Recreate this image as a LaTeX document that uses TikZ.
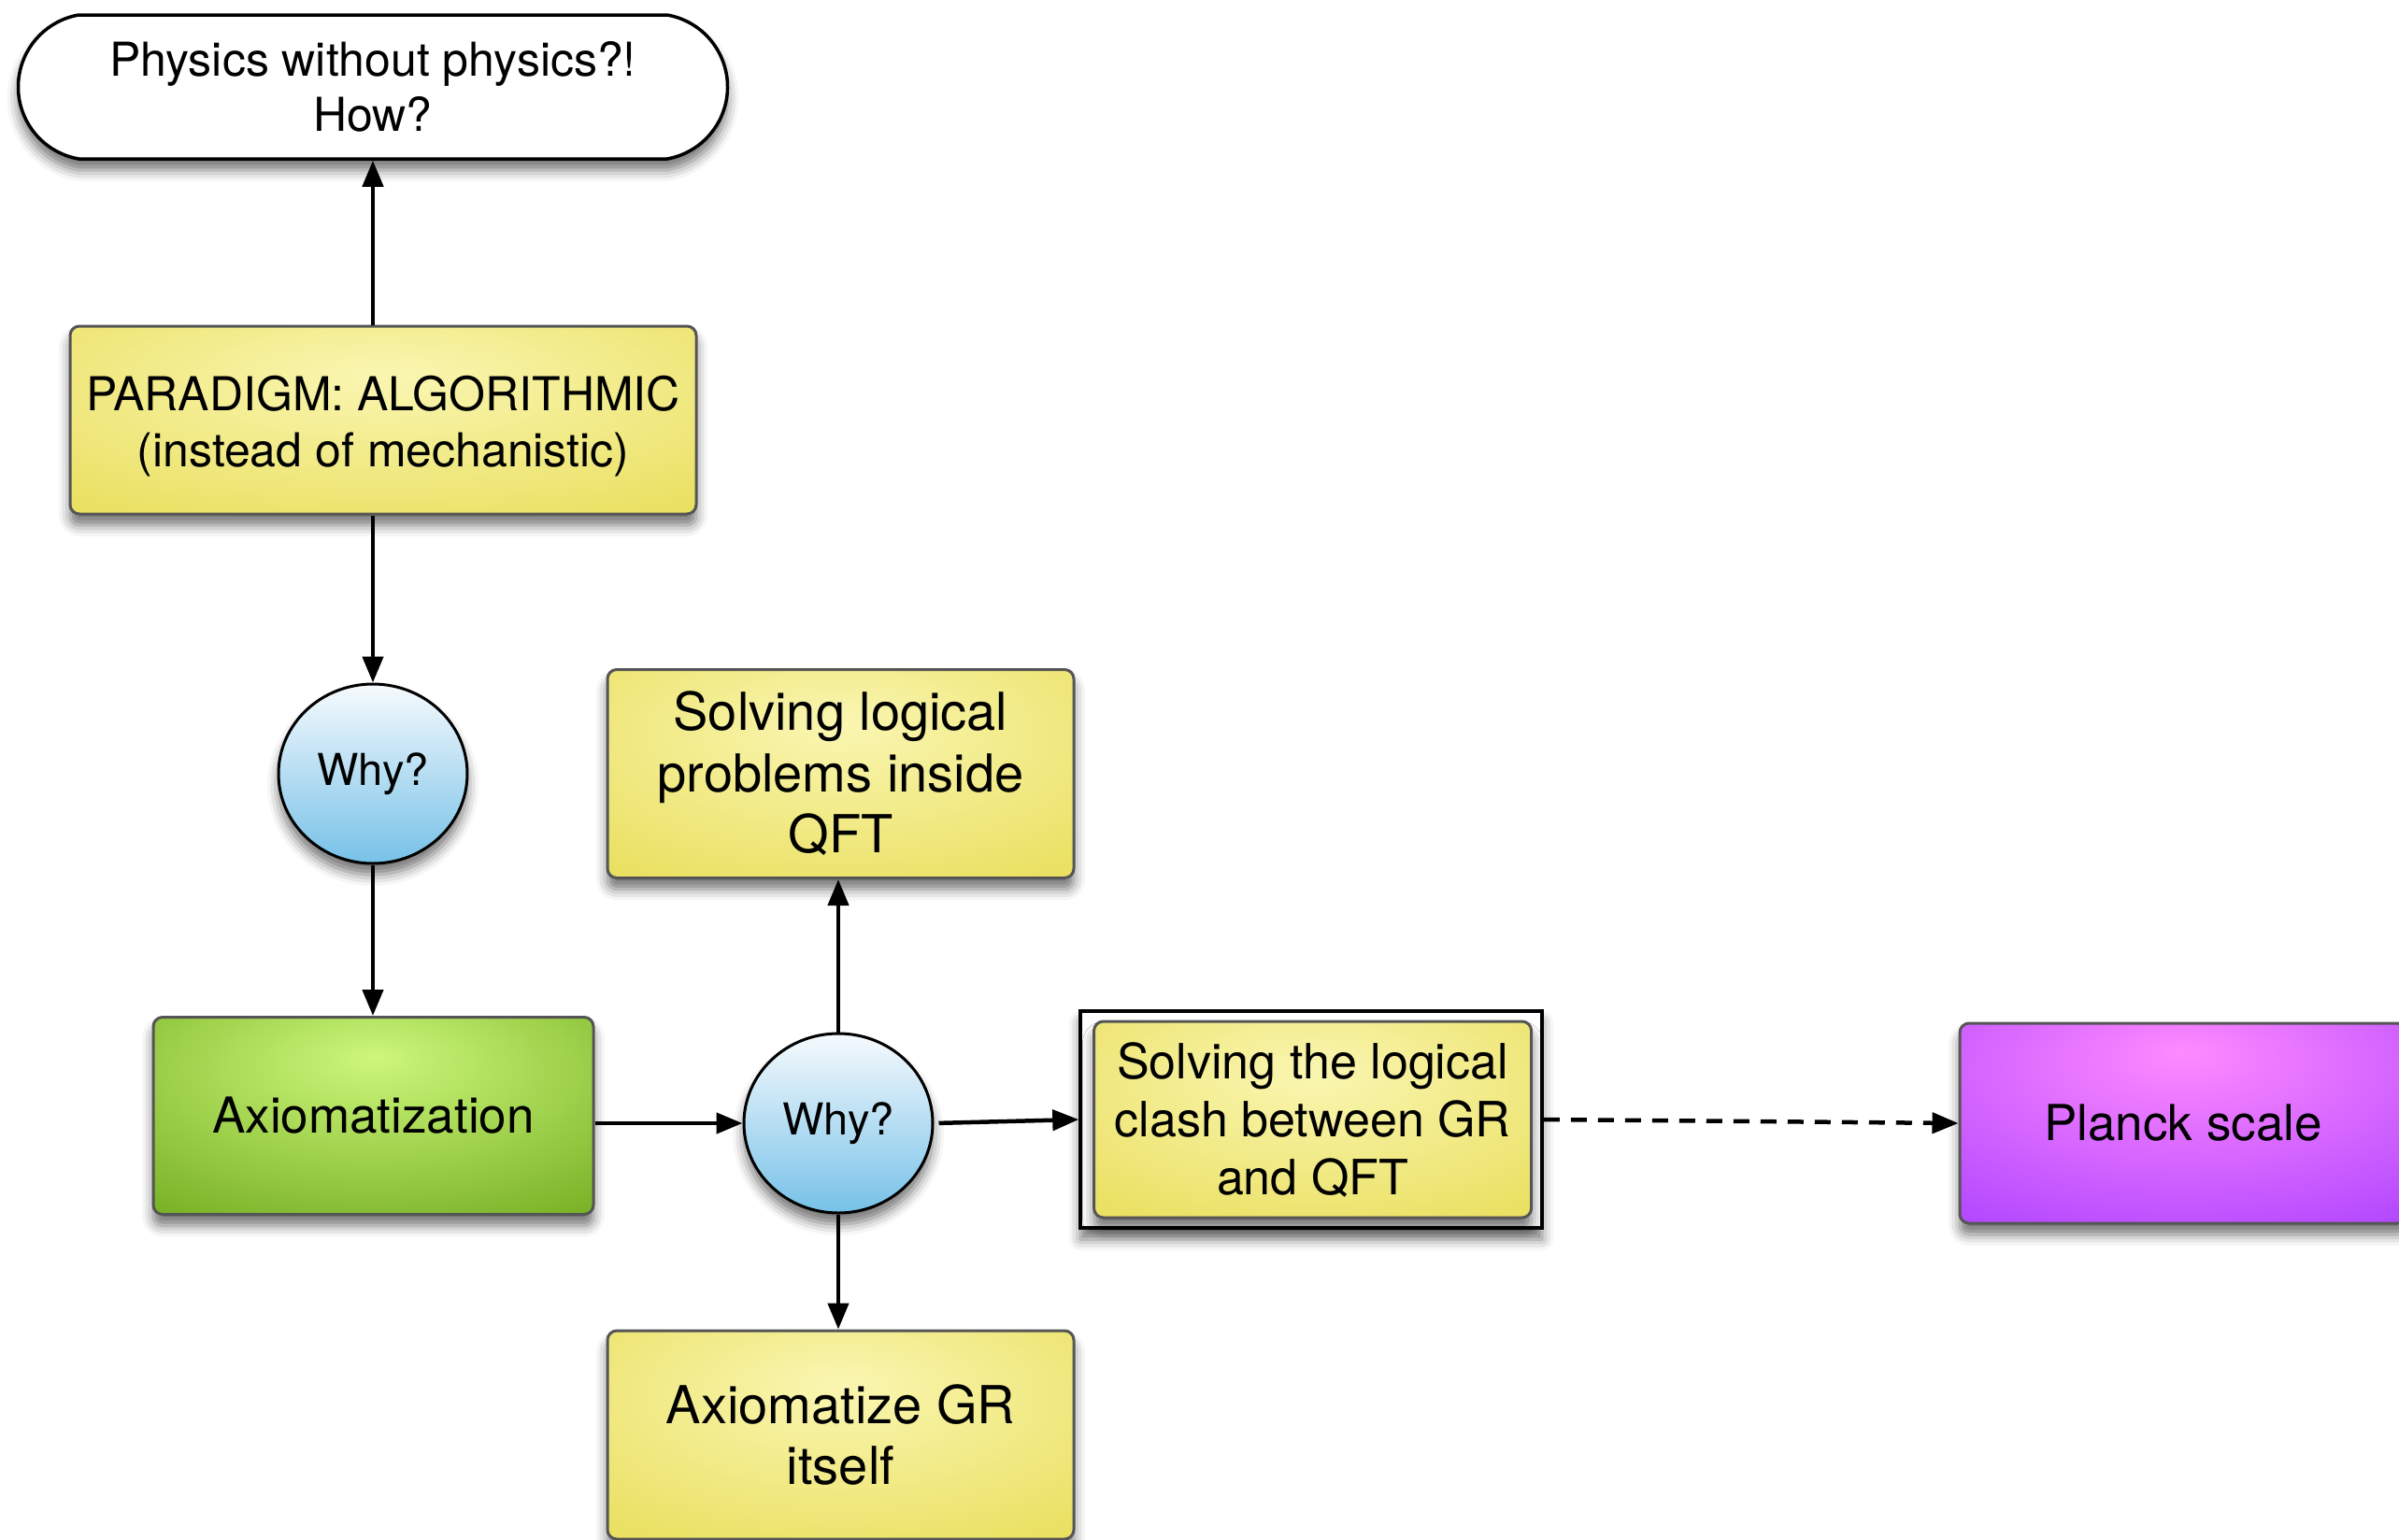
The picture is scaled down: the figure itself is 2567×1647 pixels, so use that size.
\documentclass[tikz,border=0pt]{standalone}
\usepackage{fontspec}
\setmainfont{TeX Gyre Heros}
\usetikzlibrary{arrows.meta,shapes.misc,shapes.geometric,shadows.blur}

\definecolor{yelC}{HTML}{FAF6B2}
\definecolor{yelE}{HTML}{E0D332}
\definecolor{grnC}{HTML}{CDF77A}
\definecolor{grnE}{HTML}{529200}
\definecolor{purC}{HTML}{FF8AFF}
\definecolor{purE}{HTML}{9A33FF}
\definecolor{bluT}{HTML}{F6FAFD}
\definecolor{bluB}{HTML}{76C1E8}
\definecolor{boxborder}{HTML}{555555}

\pgfdeclareradialshading{yelshade}{\pgfpoint{0bp}{12bp}}{color(0bp)=(yelC); color(62bp)=(yelE); color(100bp)=(yelE)}
\pgfdeclareradialshading{grnshade}{\pgfpoint{0bp}{15bp}}{color(0bp)=(grnC); color(60bp)=(grnE); color(100bp)=(grnE)}
\pgfdeclareradialshading{purshade}{\pgfpoint{0bp}{18bp}}{color(0bp)=(purC); color(56bp)=(purE); color(100bp)=(purE)}

\tikzset{
  shd/.style={blur shadow={shadow xshift=0pt, shadow yshift=-12pt, shadow blur radius=12pt, shadow opacity=55}},
  boxbase/.style={draw=boxborder, line width=3pt, rounded corners=10pt, align=center, inner sep=0pt, shd},
  yelbox/.style={boxbase, shading=yelshade},
  grnbox/.style={boxbase, shading=grnshade},
  purbox/.style={boxbase, shading=purshade},
  whynode/.style={ellipse, draw=black, line width=3pt, top color=bluT, bottom color=bluB,
    minimum width=202pt, minimum height=192pt, inner sep=0pt, shd,
    font=\fontsize{47}{56}\selectfont},
  conn/.style={line width=4.5pt, -{Triangle[length=28pt,width=22pt]}},
}

\begin{document}
\begin{tikzpicture}[x=1pt,y=-1pt]
\useasboundingbox (0,0) rectangle (2567,1647);

% top stadium
\node[rounded rectangle, rounded rectangle arc length=160, draw=black, line width=3.5pt, fill=white,
  minimum width=759pt, minimum height=154pt, align=center, inner sep=0pt, shd,
  font=\fontsize{50}{59}\selectfont] (top) at (399,93) {Physics without physics?!\\How?};

\node[yelbox, minimum width=670pt, minimum height=201pt, font=\fontsize{50}{60}\selectfont]
  (para) at (410,449.5) {\rule{0pt}{50pt}PARADIGM: ALGORITHMIC\\(instead of mechanistic)};

\node[whynode] (why1) at (399,828) {Why?};

\node[grnbox, minimum width=471pt, minimum height=211pt, font=\fontsize{53}{62}\selectfont]
  (axi) at (399.5,1194) {Axiomatization};

\node[whynode] (why2) at (897,1202) {Why?};

\node[yelbox, minimum width=499pt, minimum height=223pt, font=\fontsize{56}{65.5}\selectfont]
  (qft) at (899.5,828) {Solving logical\\problems inside\\QFT};

\node[yelbox, minimum width=499pt, minimum height=223pt, font=\fontsize{56}{65.5}\selectfont]
  (gr) at (899.5,1535.5) {Axiomatize GR\\itself};

\node[draw=black, line width=3.5pt, fill=white, minimum width=494pt, minimum height=232pt, inner sep=0pt, shd]
  (frame) at (1403,1198) {};
\node[yelbox, minimum width=468pt, minimum height=210pt, font=\fontsize{52}{62}\selectfont]
  (clash) at (1404.6,1198) {Solving the logical\\clash between GR\\and QFT};

\node[purbox, minimum width=478pt, minimum height=214pt, font=\fontsize{53}{62}\selectfont]
  (planck) at (2336,1202) {Planck scale};

% connectors
\draw[conn] (para.north -| top.south) -- (top.south);
\draw[conn] (para.south -| why1.north) -- (why1.north);
\draw[conn] (why1.south) -- (axi.north -| why1.south);
\draw[conn] (axi.east |- why2.west) -- (why2.west);
\draw[conn] (why2.north) -- (qft.south -| why2.north);
\draw[conn] (why2.south) -- (gr.north -| why2.south);
\draw[conn, shorten <=5pt] (why2.east) -- (frame.west);
\draw[conn, dash pattern=on 17pt off 12pt] (frame.east) -- (planck.west);
\end{tikzpicture}
\end{document}
